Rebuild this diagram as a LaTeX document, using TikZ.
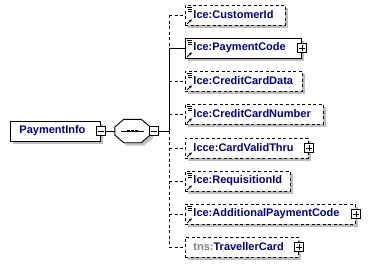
\documentclass[tikz,border=0pt]{standalone}
\usepackage{fontspec}
\setmainfont{Liberation Sans}
\usetikzlibrary{calc,arrows.meta}
\definecolor{navy}{RGB}{0,0,128}
\definecolor{shadowcol}{rgb}{0.75,0.75,0.75}
\definecolor{tnsgray}{RGB}{128,128,128}
\newcommand{\docmark}[1]{\draw[line width=0.6pt] ($(#1.north west)+(2,2.5)$) -- +(5,0) ($(#1.north west)+(3,4.5)$) -- +(4,0) ($(#1.north west)+(3,6.5)$) -- +(4,0);}
\newcommand{\refarrow}[1]{\draw[line width=0.8pt,-{Stealth[length=3pt,width=3.2pt]}] ($(#1.south west)+(2,-1.5)$) -- ($(#1.south west)+(6.8,-6)$);}
% shadow rectangle: left x, centre y, width, height
\newcommand{\shadowrect}[4]{\fill[shadowcol] (#1+3,#2-#4/2+3) rectangle (#1+#3+3,#2+#4/2+3);}
\begin{document}
\begin{tikzpicture}[x=1pt,y=-1pt,
  lab/.style={font=\fontsize{11}{13}\selectfont\bfseries, text=navy},
  elembox/.style={lab, draw, fill=white, line width=0.9pt, minimum height=20pt,
    inner xsep=0pt, inner ysep=0pt, text width=#1, align=left, anchor=west},
  optbox/.style={dash pattern=on 3pt off 2.5pt},
  optline/.style={line width=0.9pt, dash pattern=on 3pt off 2.5pt},
  reqline/.style={line width=0.9pt},
  pm/.style={draw, fill=white, line width=0.8pt, minimum size=9pt, inner sep=0pt},
  plusbox/.style={pm, path picture={\draw[line width=0.8pt] ($(path picture bounding box.center)+(-3,0)$) -- +(6,0) ($(path picture bounding box.center)+(0,-3)$) -- +(0,6);}},
  minusbox/.style={pm, path picture={\draw[line width=0.8pt] ($(path picture bounding box.center)+(-3,0)$) -- +(6,0);}}
]
\fill[white] (0,0) rectangle (370,266);
\useasboundingbox (0,0) rectangle (370,266);

% shadows (drawn first, behind the boxes)
\shadowrect{10}{131}{90}{20}
\shadowrect{185}{15}{100}{20}
\shadowrect{185}{48}{116}{20}
\shadowrect{185}{81}{117}{20}
\shadowrect{185}{114}{138}{20}
\shadowrect{185}{148}{123}{20}
\shadowrect{185}{181}{105}{20}
\shadowrect{185}{214}{170}{20}
\shadowrect{185}{247}{113}{20}
\fill[shadowcol] (118,130) -- (127,122.5) -- (144,122.5) -- (153,130) -- (153,138) -- (144,145.5) -- (127,145.5) -- (118,138) -- cycle;

% root element
\node[elembox=90pt] (pi) at (10,131) {\mbox{\hspace*{9pt}PaymentInfo}};
\node[minusbox] (pim) at (pi.east) {};

% sequence compositor
\node[minimum width=35pt, minimum height=23pt, inner sep=0pt] (seq) at (132.5,131) {};
\draw[fill=white, line width=0.9pt] ($(seq.west)+(0,-4)$) -- ($(seq.north west)+(9,0)$) -- ($(seq.north east)+(-9,0)$) -- ($(seq.east)+(0,-4)$) -- ($(seq.east)+(0,4)$) -- ($(seq.south east)+(-9,0)$) -- ($(seq.south west)+(9,0)$) -- ($(seq.west)+(0,4)$) -- cycle;
\draw[line width=0.9pt] ($(seq.west)+(6,0)$) -- ($(seq.east)+(-6,0)$);
\foreach \dx in {-4,0,4} \fill ($(seq.center)+(\dx-1.3,-1.3)$) rectangle +(2.6,2.6);
\node[minusbox] (sm) at ($(seq.east)+(4,0)$) {};
\draw[reqline] (pim.east) -- (seq.west);

% children
\node[elembox=100pt, optbox] (c1) at (185,15) {\mbox{\hspace*{8pt}lce:CustomerId}};
\node[elembox=116pt] (c2) at (185,48) {\mbox{\hspace*{8pt}lce:PaymentCode}};
\node[elembox=117pt, optbox] (c3) at (185,81) {\mbox{\hspace*{8pt}lce:CreditCardData}};
\node[elembox=138pt, optbox] (c4) at (185,114) {\mbox{\hspace*{8pt}lce:CreditCardNumber}};
\node[elembox=123pt, optbox] (c5) at (185,148) {\mbox{\hspace*{8pt}lcce:CardValidThru}};
\node[elembox=105pt, optbox] (c6) at (185,181) {\mbox{\hspace*{8pt}lce:RequisitionId}};
\node[elembox=170pt, optbox] (c7) at (185,214) {\mbox{\hspace*{8pt}lce:AdditionalPaymentCode}};
\node[elembox=113pt, optbox] (c8) at (185,247) {\mbox{\hspace*{8pt}{\color{tnsgray}tns:}TravellerCard}};

\node[plusbox] (p2) at (c2.east) {};
\node[plusbox] (p5) at (c5.east) {};
\node[plusbox] (p7) at (c7.east) {};
\node[plusbox] (p8) at (c8.east) {};

\foreach \n in {c1,c2,c3,c4,c6,c7} {\docmark{\n}}
\foreach \n in {c1,c2,c3,c4,c5,c6,c7} {\refarrow{\n}}

% connectors
\coordinate (j) at (169,131);
\draw[reqline] (sm.east) -- (j);
\draw[optline] (j |- c1.west) -- (j |- c2.west);
\draw[reqline] (j |- c2.west) -- (j);
\draw[optline] (j) -- (j |- c8.west);
\draw[reqline] (j |- c2.west) -- (c2.west);
\foreach \n in {c1,c3,c4,c5,c6,c7,c8} {\draw[optline] (j |- \n.west) -- (\n.west);}
\end{tikzpicture}
\end{document}
